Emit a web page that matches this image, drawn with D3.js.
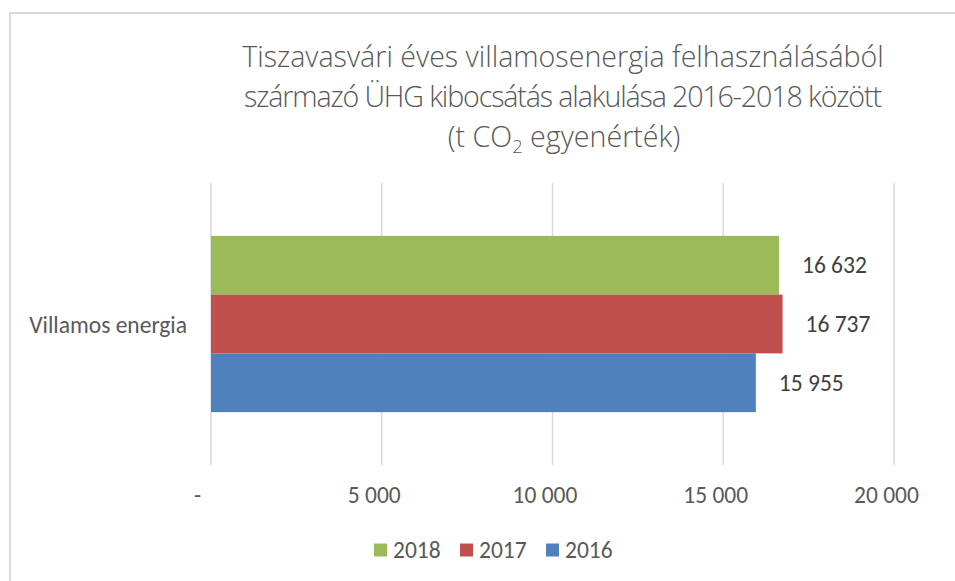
<!DOCTYPE html>
<html>
<head>
<meta charset="utf-8">
<script src="https://cdn.jsdelivr.net/npm/d3@7"></script>
<style>
  body { margin: 0; background: #fff; }
  svg text { font-family: Carlito, Calibri, Lato, sans-serif; }
  svg text.title { font-family: 'Calibri Light', 'Open Sans', sans-serif; font-weight: 300; }
</style>
</head>
<body>
<svg width="955" height="581"></svg>
<script>
const categories = ['Villamos energia']
const years = ['2018', '2017', '2016']
const values = [16632, 16737, 15955]
const colors = ['#9BBB59', '#C0504D', '#4F81BD']
const xTicks = [0, 5000, 10000, 15000, 20000]
const titleLines = ['Tiszavasvári éves villamosenergia felhasználásából',
                    'származó ÜHG kibocsátás alakulása 2016-2018 között']

const svg = d3.select('svg')
const margin = {top: 183, right: 61, bottom: 116, left: 211}
const width = +svg.attr('width')
const height = +svg.attr('height')
const innerWidth = width - margin.left - margin.right
const innerHeight = height - margin.top - margin.bottom
const fontSize = 23.5

const fmt = v => v === 0 ? '-' : d3.format(',')(v).replace(/,/g, ' ')

// chart border
svg.append('rect')
    .attr('x', 10).attr('y', 13)
    .attr('width', 960).attr('height', 600)
    .attr('fill', 'none')
    .attr('stroke', '#d9d9d9')
    .attr('stroke-width', 2)

const g = svg.append('g')
    .attr('transform', `translate(${margin.left}, ${margin.top})`)

const xScale = d3.scaleLinear().domain([0, 20000]).range([0, innerWidth])
const yScale = d3.scaleBand().domain(categories).range([0, innerHeight])
    .paddingInner(0).paddingOuter(0.3)
const ySeries = d3.scaleBand().domain(years).range([0, yScale.bandwidth()])
const color = d3.scaleOrdinal().domain(years).range(colors)

// gridlines
g.selectAll('.grid')
    .data(xTicks)
    .join('line')
    .attr('class', 'grid')
    .attr('x1', d => xScale(d)).attr('x2', d => xScale(d))
    .attr('y1', 0).attr('y2', innerHeight)
    .attr('stroke', '#d9d9d9')
    .attr('stroke-width', 1.5)

const rows = years.map((y, i) => ({cat: categories[0], year: y, value: values[i]}))

g.selectAll('.bar')
    .data(rows)
    .join('rect')
    .attr('class', 'bar')
    .attr('x', 0)
    .attr('y', d => yScale(d.cat) + ySeries(d.year))
    .attr('width', d => xScale(d.value))
    .attr('height', ySeries.bandwidth())
    .attr('fill', d => color(d.year))

g.selectAll('.lbl')
    .data(rows)
    .join('text')
    .attr('class', 'lbl')
    .attr('x', d => xScale(d.value) + 23)
    .attr('y', d => yScale(d.cat) + ySeries(d.year) + ySeries.bandwidth() / 2 + 8)
    .attr('font-size', fontSize)
    .attr('fill', '#404040')
    .text(d => fmt(d.value))

// category axis label
g.selectAll('.cat')
    .data(categories)
    .join('text')
    .attr('class', 'cat')
    .attr('x', -24)
    .attr('y', d => yScale(d) + yScale.bandwidth() / 2 + 9)
    .attr('text-anchor', 'end')
    .attr('font-size', fontSize)
    .attr('fill', '#595959')
    .text(d => d)

// x axis
const xAxis = d3.axisBottom(xScale).tickValues(xTicks).tickSize(0).tickPadding(0).tickFormat(fmt)
const xg = g.append('g')
    .attr('transform', `translate(0, ${innerHeight + 38})`)
    .call(xAxis)
xg.select('.domain').remove()
xg.selectAll('text')
    .attr('font-size', fontSize)
    .attr('fill', '#595959')
    .attr('font-family', null)
    .attr('dy', 0)
    .attr('dx', d => d === 0 ? -14 : -8)

// title: one size for all lines, fitted on line 1
const title = svg.append('g').attr('fill', '#595959').attr('text-anchor', 'middle')
const titleEls = titleLines.map((t, i) => title.append('text')
    .attr('class', 'title')
    .attr('x', 563).attr('y', 67 + i * 40)
    .attr('font-size', 25)
    .text(t))
const k = 642 / titleEls[0].node().getComputedTextLength()
titleEls.forEach(el => el.attr('font-size', 25 * k))
titleEls[1].attr('textLength', 638).attr('lengthAdjust', 'spacing')

const t3 = title.append('text')
    .attr('class', 'title')
    .attr('x', 564).attr('y', 147)
    .attr('font-size', 25 * k)
t3.append('tspan').text('(t CO')
t3.append('tspan').attr('font-size', 16 * k).attr('dy', 6).text('2')
t3.append('tspan').attr('dy', -6).text(' egyenérték)')

// legend
const legend = svg.append('g').attr('transform', 'translate(374, 550)')
const lx = [0, 86, 172]
years.forEach((y, i) => {
    const it = legend.append('g').attr('transform', `translate(${lx[i]}, 0)`)
    it.append('rect').attr('x', 0).attr('y', -6.5).attr('width', 13).attr('height', 13)
        .attr('fill', color(y))
    it.append('text').attr('x', 19).attr('y', 8)
        .attr('font-size', fontSize).attr('fill', '#595959').text(y)
})
</script>
</body>
</html>
